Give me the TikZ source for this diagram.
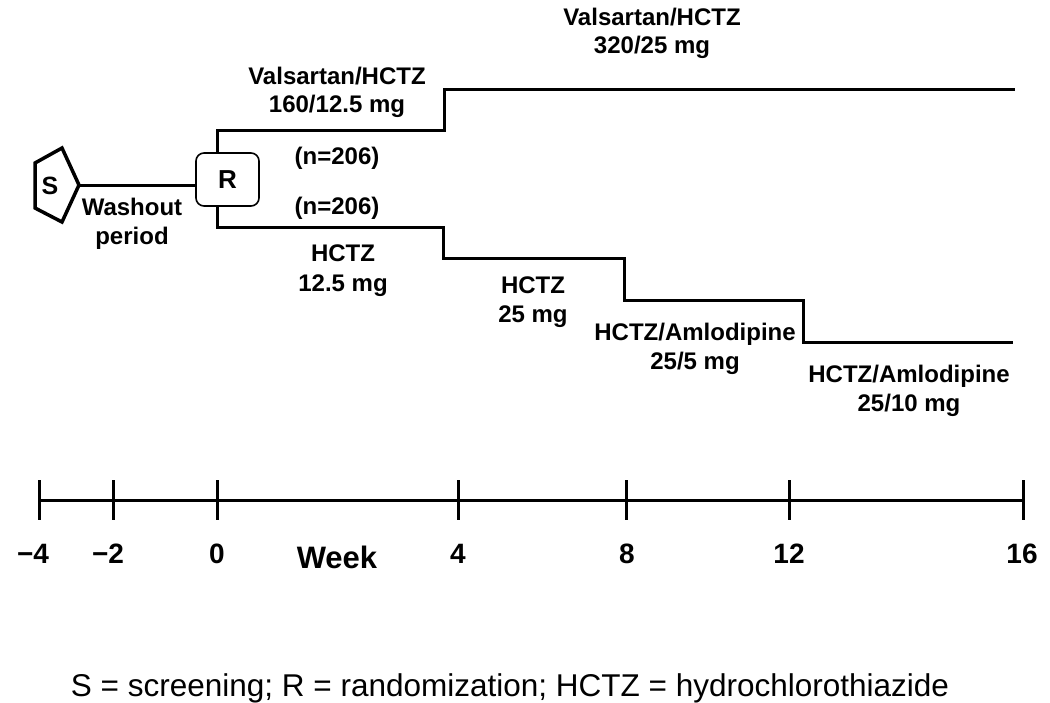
\documentclass[tikz,border=0pt]{standalone}
\usepackage{fontspec}
\setmainfont{Liberation Sans}
\begin{document}
\begin{tikzpicture}[x=1pt,y=-1pt,
  line/.style={line width=3pt, line join=miter},
  lbl/.style={font=\fontsize{24}{29}\selectfont\bfseries, align=center, inner sep=0pt},
  axl/.style={font=\fontsize{28}{30}\selectfont\bfseries, inner sep=0pt, anchor=base},
  rbox/.style={draw, line width=1.6pt, rounded corners=8pt, minimum width=63pt, minimum height=53pt, inner sep=0pt, font=\fontsize{26}{28}\selectfont\bfseries}]
\useasboundingbox (0,0) rectangle (1050,702);

% timeline
\foreach \x/\n in {39/a,113/b,217/c,458/d,626/e,789/f,1023/g}{
  \coordinate (t\n) at (\x,500);
  \draw[line] (\x,480) -- (\x,520);
}
\draw[line] (ta) -- (tg);
\node[axl] (la) at (33,563) {−4};
\node[axl] (lb) at (108,563) {−2};
\node[axl] (lc) at (217,563) {0};
\node[axl, font=\fontsize{31}{32}\selectfont\bfseries] (lw) at (337,568) {Week};
\node[axl] (ld) at (458,563) {4};
\node[axl] (le) at (627,563) {8};
\node[axl] (lf) at (789,563) {12};
\node[axl] (lg) at (1022,563) {16};

% screening pentagon
\coordinate (S1) at (35,163);
\coordinate (S2) at (62,148);
\coordinate (Stip) at (79,185);
\coordinate (S4) at (62,222);
\coordinate (S5) at (35,208);
\draw[line width=3.5pt, line join=miter] (S1) -- (S2) -- (Stip) -- (S4) -- (S5) -- cycle;
\node[font=\fontsize{25}{26}\selectfont\bfseries, inner sep=0pt] (S) at (50,186) {S};

% randomization box
\node[rbox] (R) at (227.5,179.5) {R};
\draw[line] (Stip) -- (Stip -| R.west);

% upper branch
\coordinate (u0) at (217,130);
\coordinate (u1) at (444,130);
\coordinate (u2) at (444,89);
\coordinate (u3) at (1015,89);
\draw[line] (R.north -| tc) -- (u0) -- (u1) -- (u2) -- (u3);

% lower branch
\coordinate (d0) at (217,227);
\coordinate (d1) at (443,227);
\coordinate (d2) at (443,258);
\coordinate (d3) at (624,258);
\coordinate (d4) at (624,300);
\coordinate (d5) at (803,300);
\coordinate (d6) at (803,342);
\coordinate (d7) at (1013,342);
\draw[line] (R.south -| tc) -- (d0) -- (d1) -- (d2) -- (d3) -- (d4) -- (d5) -- (d6) -- (d7);

% labels
\node[lbl, font=\fontsize{24}{28}\selectfont\bfseries] (v1) at (337,92) {Valsartan/HCTZ\\160/12.5 mg};
\node[lbl, font=\fontsize{24}{28}\selectfont\bfseries] (v2) at (652,33) {Valsartan/HCTZ\\320/25 mg};
\node[lbl] (n1) at (337,158) {(n=206)};
\node[lbl] (n2) at (337,208) {(n=206)};
\node[lbl] (wo) at (132,224) {Washout\\period};
\node[lbl, font=\fontsize{24}{30}\selectfont\bfseries] (h1) at (343,271) {HCTZ\\12.5 mg};
\node[lbl] (h2) at (533,302) {HCTZ\\25 mg};
\node[lbl] (h3) at (695,349) {HCTZ/Amlodipine\\25/5 mg};
\node[lbl] (h4) at (909,391) {HCTZ/Amlodipine\\25/10 mg};

\node[font=\fontsize{31.5}{34}\selectfont, inner sep=0pt] (cap) at (510,688) {S = screening; R = randomization; HCTZ = hydrochlorothiazide};
\end{tikzpicture}
\end{document}
